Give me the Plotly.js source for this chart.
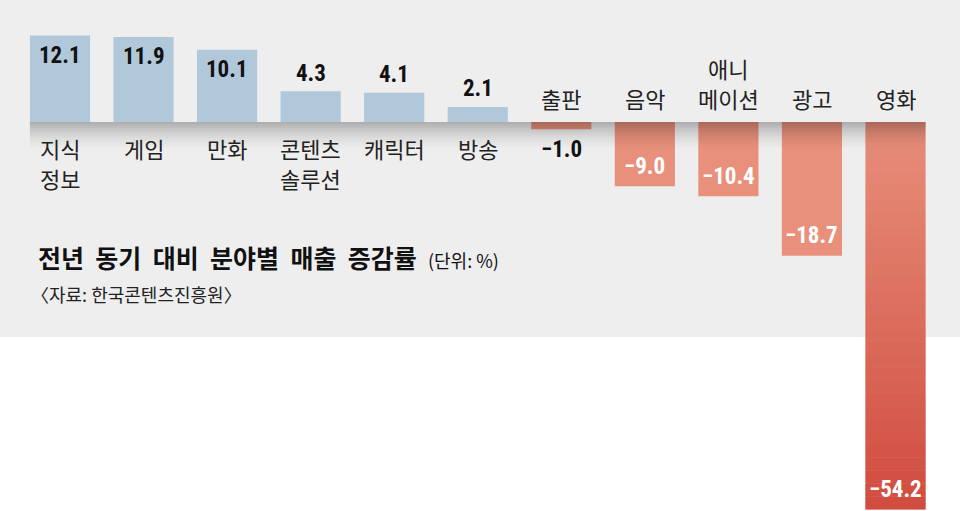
<!DOCTYPE html>
<html>
<head>
<meta charset="utf-8">
<script src="https://cdn.plot.ly/plotly-3.0.1.min.js"></script>
<style>
  html, body { margin: 0; padding: 0; background: #fff; }
  #chart { width: 960px; height: 511px; }
</style>
</head>
<body>
<div id="chart"></div>
<script>
// 전년 동기 대비 분야별 매출 증감률 (%)
var categories = ["지식<br>정보", "게임", "만화", "콘텐츠<br>솔루션", "캐릭터", "방송", "출판", "음악", "애니<br>메이션", "광고", "영화"];
var growth = [12.1, 11.9, 10.1, 4.3, 4.1, 2.1, -1.0, -9.0, -10.4, -18.7, -54.2];

var titleWords = ["전년", "동기", "대비", "분야별", "매출", "증감률"];
var unitNote = "(단위: %)";
var sourceNote = "〈자료: 한국콘텐츠진흥원〉";

var idx = categories.map(function (c, i) { return i; });
var barWidth = 0.72;

var barColors = growth.map(function (v) { return v >= 0 ? "#b0c8da" : "#e8907c"; });

var trace = {
  x: idx,
  y: growth,
  type: "bar",
  width: barWidth,
  marker: { color: barColors, line: { width: 0 } },
  hoverinfo: "skip"
};

var sans = "Noto Sans CJK KR, sans-serif";
var numFont = "Roboto Condensed, Liberation Sans, Arial, sans-serif";
var linePitch = 30;

// category names: under the baseline for growth, above it for decline
var annotations = [];
categories.forEach(function (c, i) {
  var neg = growth[i] < 0;
  var lines = c.split("<br>");
  lines.forEach(function (ln, k) {
    annotations.push({
      xref: "x", yref: "y", x: i, y: 0,
      text: ln, showarrow: false,
      yanchor: neg ? "bottom" : "top",
      yshift: neg ? 6 + linePitch * (lines.length - 1 - k) : -8 - linePitch * k,
      font: { family: sans, size: 22, color: "#222222" }
    });
  });
});

// value labels: inside the bar end when it is long enough, else just outside
growth.forEach(function (v, i) {
  var inside = Math.abs(v) > 8;
  var shift;
  if (v >= 0) shift = inside ? -20 : 18;
  else shift = inside ? 20 : -20;
  annotations.push({
    xref: "x", yref: "y", x: i, y: v,
    text: "<b>" + v.toFixed(1).replace("-", "\u2212") + "</b>",
    showarrow: false, yanchor: "middle", yshift: shift,
    font: { family: numFont, size: 23, color: (inside && v < 0) ? "#ffffff" : "#111111" }
  });
});

annotations.push({
  xref: "paper", yref: "paper", x: 0.037, y: 0.497,
  xanchor: "left", yanchor: "middle", showarrow: false,
  text: "<b>" + titleWords.join("\u00a0 ") + "</b>\u00a0 <span style=\"font-size:18px\">" + unitNote + "</span>",
  font: { family: sans, size: 25, color: "#111111" }
});
annotations.push({
  xref: "paper", yref: "paper", x: 0.030, y: 0.425,
  xanchor: "left", yanchor: "middle", showarrow: false,
  text: sourceNote,
  font: { family: sans, size: 18, color: "#222222" }
});

// grey panel behind the chart
var shapes = [{
  type: "rect", xref: "paper", yref: "paper",
  x0: 0, x1: 1, y0: 0.3405, y1: 1,
  fillcolor: "#eeeeee", line: { width: 0 }, layer: "below"
}];

// soft shadow just below the baseline (thin strips fading out)
var shadeSteps = 14, shadeDepth = 4;
for (var k = 0; k < shadeSteps; k++) {
  shapes.push({
    type: "rect", xref: "x", yref: "y",
    x0: -barWidth / 2, x1: idx.length - 1 + barWidth / 2,
    y0: -shadeDepth * k / shadeSteps, y1: -shadeDepth * (k + 1) / shadeSteps,
    fillcolor: "#000000", opacity: 0.26 * Math.pow(1 - k / shadeSteps, 1.6),
    line: { width: 0 }, layer: "above"
  });
}

// deepening red on the largest drop
var worst = growth.indexOf(Math.min.apply(null, growth));
var redSteps = 30;
for (var j = 0; j < redSteps; j++) {
  shapes.push({
    type: "rect", xref: "x", yref: "y",
    x0: worst - barWidth / 2, x1: worst + barWidth / 2,
    y0: growth[worst] * j / redSteps, y1: growth[worst] * (j + 1) / redSteps,
    fillcolor: "#cc3f35", opacity: 0.85 * (j + 0.5) / redSteps,
    line: { width: 0 }, layer: "above"
  });
}

var layout = {
  width: 960,
  height: 511,
  margin: { l: 0, r: 0, t: 0, b: 0 },
  paper_bgcolor: "#ffffff",
  plot_bgcolor: "rgba(0,0,0,0)",
  showlegend: false,
  xaxis: { range: [-0.718, 10.772], visible: false, fixedrange: true },
  yaxis: { range: [-54.41, 17.06], visible: false, zeroline: false, fixedrange: true },
  shapes: shapes,
  annotations: annotations
};

Plotly.newPlot("chart", [trace], layout, { displayModeBar: false, staticPlot: true });
</script>
</body>
</html>
